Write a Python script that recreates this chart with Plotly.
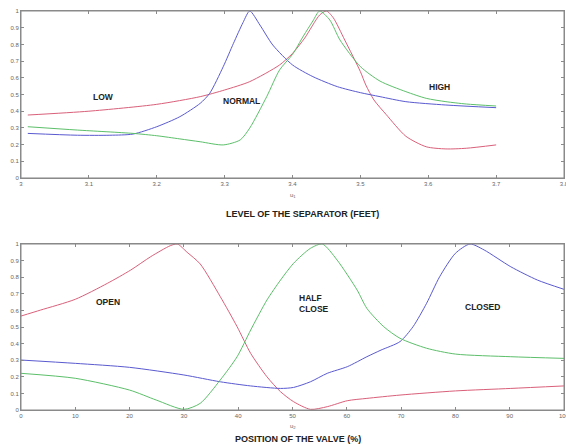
import plotly.graph_objects as go
from plotly.subplots import make_subplots

# ---- Top panel: level of the separator (u1) ----
top_red_x = [3.01, 3.1, 3.2, 3.264, 3.3, 3.337, 3.381, 3.40, 3.418, 3.44, 3.45, 3.46, 3.477, 3.5, 3.508, 3.52, 3.538, 3.567, 3.597, 3.626, 3.656, 3.70]
top_red_y = [0.377, 0.40, 0.441, 0.487, 0.527, 0.577, 0.677, 0.746, 0.838, 0.976, 1.0, 0.96, 0.826, 0.637, 0.557, 0.467, 0.38, 0.25, 0.187, 0.174, 0.178, 0.198]

top_blue_x = [3.01, 3.083, 3.131, 3.165, 3.2, 3.234, 3.264, 3.278, 3.298, 3.313, 3.327, 3.337, 3.352, 3.371, 3.40, 3.43, 3.466, 3.5, 3.529, 3.567, 3.626, 3.70]
top_blue_y = [0.267, 0.256, 0.256, 0.263, 0.307, 0.367, 0.447, 0.507, 0.667, 0.806, 0.93, 1.0, 0.916, 0.796, 0.677, 0.607, 0.547, 0.511, 0.487, 0.457, 0.437, 0.421]

top_green_x = [3.01, 3.083, 3.165, 3.2, 3.234, 3.264, 3.298, 3.323, 3.337, 3.362, 3.381, 3.40, 3.416, 3.43, 3.44, 3.455, 3.47, 3.5, 3.529, 3.567, 3.597, 3.626, 3.656, 3.70]
top_green_y = [0.307, 0.287, 0.267, 0.253, 0.234, 0.217, 0.198, 0.228, 0.299, 0.487, 0.647, 0.74, 0.85, 0.94, 1.0, 0.946, 0.826, 0.667, 0.58, 0.517, 0.477, 0.457, 0.443, 0.431]

top_xticks = [3, 3.1, 3.2, 3.3, 3.4, 3.5, 3.6, 3.7, 3.8]
top_labels = ["LOW", "NORMAL", "HIGH"]
top_label_x = [3.121, 3.325, 3.616]
top_label_y = [0.485, 0.461, 0.543]

# ---- Bottom panel: position of the valve (u2) ----
bot_red_x = [0, 3.6, 10, 15.9, 20.2, 23.9, 27.5, 28.8, 30.6, 33, 36.7, 39.8, 42.3, 45.3, 47.8, 50.2, 53.3, 56.4, 60.1, 63.7, 69.8, 80, 90.2, 100]
bot_red_y = [0.566, 0.602, 0.667, 0.763, 0.843, 0.924, 0.99, 1.0, 0.95, 0.88, 0.683, 0.502, 0.341, 0.2, 0.11, 0.05, 0.004, 0.02, 0.056, 0.07, 0.09, 0.115, 0.13, 0.145]

bot_blue_x = [0, 10, 20, 30, 36.7, 42.3, 47.8, 50.2, 53.3, 56.4, 60.1, 63.7, 66.3, 69.8, 72.2, 74.7, 77.1, 80, 82.7, 85.3, 90.2, 95.1, 100]
bot_blue_y = [0.301, 0.281, 0.257, 0.211, 0.17, 0.145, 0.13, 0.136, 0.17, 0.221, 0.261, 0.321, 0.361, 0.412, 0.502, 0.643, 0.803, 0.944, 1.0, 0.964, 0.863, 0.783, 0.727]

bot_green_x = [0, 10, 20, 24.9, 30, 33, 36.7, 39.8, 42.3, 45.3, 47.8, 50.2, 53.3, 55.5, 58.2, 61.9, 63.7, 66.8, 69.8, 74.7, 80, 90.2, 100]
bot_green_y = [0.221, 0.191, 0.12, 0.06, 0.004, 0.04, 0.181, 0.321, 0.482, 0.663, 0.783, 0.884, 0.974, 1.0, 0.904, 0.723, 0.612, 0.502, 0.432, 0.372, 0.337, 0.321, 0.311]

bot_xticks = [0, 10, 20, 30, 40, 50, 60, 70, 80, 90, 100]
bot_labels = ["OPEN", "HALF<br>CLOSE", "CLOSED"]
bot_label_x = [16.1, 54.0, 84.9]
bot_label_y = [0.649, 0.644, 0.619]

yticks = [0, 0.1, 0.2, 0.3, 0.4, 0.5, 0.6, 0.7, 0.8, 0.9, 1]

RED = "#d9607a"
BLUE = "#5a5ad0"
GREEN = "#5cbf6a"
AXC = "#8a8a8a"
FONT = "Liberation Sans, Arial, sans-serif"

fig = make_subplots(rows=2, cols=1)

def add(xs, ys, color, row):
    fig.add_trace(go.Scatter(x=xs, y=ys, mode="lines",
                             line=dict(color=color, width=1, shape="spline", smoothing=0.7),
                             showlegend=False, hoverinfo="skip"), row=row, col=1)

add(top_red_x, top_red_y, RED, 1)
add(top_blue_x, top_blue_y, BLUE, 1)
add(top_green_x, top_green_y, GREEN, 1)
add(bot_red_x, bot_red_y, RED, 2)
add(bot_blue_x, bot_blue_y, BLUE, 2)
add(bot_green_x, bot_green_y, GREEN, 2)

axis_common = dict(showline=True, linecolor=AXC, linewidth=1, mirror="ticks", ticks="inside",
                   ticklen=3, tickcolor=AXC, showgrid=False, zeroline=False,
                   automargin=False, ticklabeloverflow="allow",
                   tickfont=dict(family=FONT, size=6, color="#666666"))

fig.update_layout(
    width=566, height=445,
    margin=dict(l=21, r=2, t=11, b=35),
    paper_bgcolor="white", plot_bgcolor="white",
    xaxis=dict(domain=[0, 1], range=[3, 3.8], tickvals=top_xticks, **axis_common),
    yaxis=dict(domain=[0.5815, 1], range=[0, 1], tickvals=yticks, **axis_common),
    xaxis2=dict(domain=[0, 1], range=[0, 100], tickvals=bot_xticks, **axis_common),
    yaxis2=dict(domain=[0, 0.416], range=[0, 1], tickvals=yticks, **axis_common),
)

# plot boxes
for xr, yr in (("x", "y"), ("x2", "y2")):
    fig.add_shape(type="rect", xref=xr + " domain", yref=yr + " domain", x0=0, x1=1, y0=0, y1=1,
                  line=dict(color=AXC, width=1), fillcolor="rgba(0,0,0,0)", layer="above")

lab_font = dict(family=FONT, size=8.5, color="#222222")
for t, x, y in zip(top_labels, top_label_x, top_label_y):
    fig.add_annotation(x=x, y=y, xref="x", yref="y", text="<b>" + t + "</b>", showarrow=False,
                       font=lab_font, xanchor="center", yanchor="middle")
for t, x, y in zip(bot_labels, bot_label_x, bot_label_y):
    fig.add_annotation(x=x, y=y, xref="x2", yref="y2", text="<b>" + t + "</b>", showarrow=False,
                       font=lab_font, align="left", xanchor="center", yanchor="middle")

small = dict(family=FONT, size=6, color="#666666")
title_font = dict(family=FONT, size=9, color="#222222")

def px_to_paper(py):
    return (410 - py) / 399.0

fig.add_annotation(x=3.4, y=px_to_paper(195), xref="x", yref="paper", text="u<sub>1</sub>",
                   showarrow=False, font=small, xanchor="center", yanchor="middle")
fig.add_annotation(x=0.5175, y=px_to_paper(214), xref="paper", yref="paper",
                   text="<b>LEVEL OF THE SEPARATOR (FEET)</b>", showarrow=False,
                   font=title_font, xanchor="center", yanchor="middle")
fig.add_annotation(x=50, y=px_to_paper(426), xref="x2", yref="paper", text="u<sub>2</sub>",
                   showarrow=False, font=small, xanchor="center", yanchor="middle")
fig.add_annotation(x=0.51, y=px_to_paper(439), xref="paper", yref="paper",
                   text="<b>POSITION OF THE VALVE (%)</b>", showarrow=False,
                   font=title_font, xanchor="center", yanchor="middle")

fig.write_html("out.html", config={"displayModeBar": False},
               post_script="document.body.style.margin='0';document.body.style.overflow='hidden';")
